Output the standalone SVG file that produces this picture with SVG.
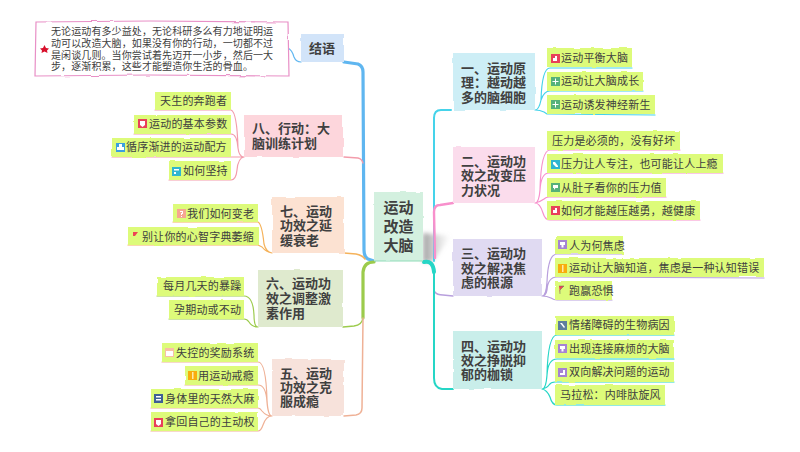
<svg xmlns="http://www.w3.org/2000/svg" width="800" height="452" viewBox="0 0 800 452">
<style>
text{font-family:"Noto Sans CJK SC","Noto Sans",sans-serif;fill:#404040}
.t{font-size:13px;font-weight:700}
.r{font-size:15px;font-weight:700;text-anchor:middle}
.l{font-size:11px;letter-spacing:.2px}
.n{font-size:10px;letter-spacing:.1px}
.leaf{fill:#ddfb7a;filter:url(#rough)}
.b{filter:url(#rough)}
.c{fill:none;stroke-width:1.2;stroke-linecap:round;stroke-linejoin:round}
.k{fill:none;stroke-linecap:round;stroke-linejoin:round}
.w{fill:#fff}
.sky{stroke:#5fb6f0}.ros{stroke:#f39cab}.org{stroke:#f5b25a}.grn{stroke:#9ccb4c}.pch{stroke:#efb196}
.cya{stroke:#45d3ea}.pnk{stroke:#f890cc}.pur{stroke:#b89fdd}.tea{stroke:#25d6c6}
</style>
<defs>
<linearGradient id="sh" x1="0" x2="1" y1="0" y2="0"><stop offset="0" stop-color="#8a8a8a" stop-opacity=".8"/><stop offset="1" stop-color="#bdbdbd" stop-opacity="0"/></linearGradient>
<filter id="bl" x="-30%" y="-30%" width="160%" height="160%"><feGaussianBlur stdDeviation="2"/></filter>
<filter id="rough" x="-5%" y="-10%" width="110%" height="120%"><feTurbulence type="fractalNoise" baseFrequency=".06" numOctaves="2" seed="4" result="n"/><feDisplacementMap in="SourceGraphic" in2="n" scale="2.500"/></filter>
</defs>
<rect width="800" height="452" fill="#fff"/>
<polygon points="423,233 451,236 432,262 423,262" fill="url(#sh)" filter="url(#bl)"/>

<g id="connectors">
<path class="k sky" stroke-width="3.200" d="M374,261 L368,259 Q364,257 364,250 L363,72 Q363,66 358,64 L344,62"/>
<path class="k ros" stroke-width="1.3" d="M344,157 L358,158 Q362,159 363,163"/>
<path class="k org" stroke-width="1.6" d="M344,253 L356,254 Q362,255 365,259"/>
<path class="k grn" stroke-width="3.200" d="M374,262 Q364,262 363,272 L363,318"/>
<path class="k grn" stroke-width="1.5" d="M363,318 Q362,325 354,326 L343,327"/>
<path class="k pch" stroke-width="1.5" d="M363,318 L362,408 Q362,414 356,415 L344,416"/>
<path class="k cya" stroke-width="2" d="M434,261 L434,118 Q434,110 441,110 L451,110"/>
<path class="k pnk" stroke-width="2.400" d="M435,258 L434,212 Q434,205 440,205 L453,203"/>
<path class="k pur" stroke-width="1.4" d="M435,292 Q437,295 443,295 L453,296"/>
<path class="k tea" stroke-width="2" d="M434,272 L434,378 Q434,388 442,389 L453,389"/>
<path class="k tea" stroke-width="4" d="M424,262 Q433,260 434,272"/>

<path class="c sky" d="M301,62 Q296,62 294,57 Q292,50 288,48"/>
<path class="c ros" d="M244,157 Q239,157 238,148 Q237,112 231,110 M244,157 Q239,157 238,148 Q237,134 231,134 M244,157 L112,157 M244,157 Q238,158 237,170 Q236,180 231,180 L169,180 M231,110 L155,110 M231,134 L134,134"/>
<path class="c org" d="M272,253 Q266,252 264,244 Q262,224 258,222 L173,222 M272,253 Q266,252 262,247 L258,245 L128,245"/>
<path class="c grn" d="M258,327 Q254,327 254,315 Q253,296 244,296 L157,296 M258,327 Q252,327 249,322 Q247,319 244,319 L169,319"/>
<path class="c pch" d="M272,416 Q268,416 267,400 Q266,362 258,362 L162,362 M272,416 Q268,416 267,402 Q266,385 258,385 L185,385 M272,416 Q266,416 262,411 Q260,408 258,408 L151,408 M272,416 Q266,416 263,425 Q261,431 258,431 L151,431"/>
<path class="c cya" d="M535,110 Q539,110 541,100 Q542,68 550,68 L632,68 M535,110 Q539,110 541,100 Q544,91 550,91 L643,91 M535,110 Q540,110 544,112 L547,114 L655,115"/>
<path class="c pnk" d="M535,203 Q539,203 540,190 Q541,150 550,150 L680,150 M535,203 Q539,203 540,190 Q541,173 549,173 L723,173 M535,203 Q540,202 544,199 Q546,197 549,197 L666,197 M535,203 Q540,203 543,213 Q545,220 550,220 L700,220"/>
<path class="c pur" d="M542,296 Q546,296 547,282 Q548,254 557,254 L623,254 M542,296 Q546,296 547,290 Q548,277 557,277 L764,278 M542,296 Q547,296 551,298 Q554,300 557,300 L612,300"/>
<path class="c tea" d="M542,389 Q546,389 547,375 Q548,335 557,335 L674,335 M542,389 Q546,389 547,375 Q548,359 557,359 L674,359 M542,389 Q547,388 549,385 Q551,382 555,382 L674,382 M542,389 Q547,390 550,397 Q552,405 557,405 L665,405"/>
</g>

<g id="root"><rect class="b" x="374" y="192" width="49" height="69" fill="#d3f0df"/><path d="M374,261 H423" stroke="#8fdcb8" fill="none"/>
<text class="r"><tspan x="398.500" y="213">运动</tspan><tspan x="398.500" y="232">改造</tspan><tspan x="398.500" y="251">大脑</tspan></text></g>

<g id="jieyu"><rect class="b" x="301" y="34" width="43" height="28" fill="#d2e4f9"/><text class="t" x="309" y="53">结语</text></g>
<g id="note"><path class="b" d="M36,22 L150,21 L288,22 L289,76 L150,75 L35,76 Z" fill="#fff" stroke="#e88fc6" stroke-width="1.2"/>
<polygon points="44.500,45 46,48 49,48.500 47,50.500 47.500,53 44.500,51.500 41.500,53 42,50.500 40,48.500 43,48" fill="#d8102c"/>
<text class="n"><tspan x="51" y="35">无论运动有多少益处，无论科研多么有力地证明运</tspan><tspan x="51" y="47">动可以改造大脑，如果没有你的行动，一切都不过</tspan><tspan x="51" y="59">是闲谈几则。当你尝试着先迈开一小步，然后一大</tspan><tspan x="51" y="70">步，逐渐积累，这些才能塑造你生活的骨血。</tspan></text></g>

<g id="n8"><rect class="b" x="244" y="115" width="99" height="42" fill="#fdd6dc"/><text class="t"><tspan x="252" y="133">八、行动：大</tspan><tspan x="252" y="148">脑训练计划</tspan></text></g>
<g id="n8a"><rect class="leaf" x="155" y="92" width="76" height="18"/><text class="l" x="160" y="105">天生的奔跑者</text></g>
<g id="n8b"><rect class="leaf" x="134" y="115" width="97" height="19"/><rect x="138" y="119" width="9" height="9" fill="#e8405a"/><path class="w" d="M140,121 H145 V125 L142.500,127 L140,125 Z"/><text class="l" x="149" y="128">运动的基本参数</text></g>
<g id="n8c"><rect class="leaf" x="112" y="138" width="119" height="19"/><rect x="116" y="143" width="9" height="9" fill="#3c9fe0"/><path class="w" d="M119,144 H122 V147 H124 V150 H117 V147 H119 Z"/><text class="l" x="126" y="151">循序渐进的运动配方</text></g>
<g id="n8d"><rect class="leaf" x="169" y="161" width="62" height="19"/><rect x="172" y="167" width="9" height="9" fill="#30b5d0"/><path class="w" d="M174,169 H179 V170.500 H174 Z M174,172 H176 V174 H174 Z"/><text class="l" x="183" y="175">如何坚持</text></g>

<g id="n7"><rect class="b" x="272" y="197" width="72" height="56" fill="#fce2d2"/><text class="t"><tspan x="280" y="216">七、运动</tspan><tspan x="280" y="230">功效之延</tspan><tspan x="280" y="245">缓衰老</tspan></text></g>
<g id="n7a"><rect class="leaf" x="173" y="204" width="85" height="18"/><rect x="177" y="209" width="9" height="9" fill="#f6a692"/><path class="w" d="M180,211 H183 V214 H182 V215 H181 V213 H182 V212 H180 Z M181,216 H182 V217 H181 Z"/><text class="l" x="187" y="218">我们如何变老</text></g>
<g id="n7b"><rect class="leaf" x="128" y="227" width="131" height="18"/><polygon points="133,232 138,232 135,236 133,236" fill="#ee4455"/><text class="l" x="142" y="241">别让你的心智字典萎缩</text></g>

<g id="n6"><rect class="b" x="258" y="270" width="85" height="57" fill="#dfeace"/><text class="t"><tspan x="266" y="288">六、运动功</tspan><tspan x="266" y="303">效之调整激</tspan><tspan x="266" y="318">素作用</tspan></text></g>
<g id="n6a"><rect class="leaf" x="157" y="277" width="87" height="19"/><text class="l" x="163" y="290">每月几天的暴躁</text></g>
<g id="n6b"><rect class="leaf" x="169" y="300" width="75" height="19"/><text class="l" x="174" y="314">孕期动或不动</text></g>

<g id="n5"><rect class="b" x="272" y="359" width="72" height="57" fill="#f7e2db"/><text class="t"><tspan x="280" y="378">五、运动</tspan><tspan x="280" y="392">功效之克</tspan><tspan x="280" y="406">服成瘾</tspan></text></g>
<g id="n5a"><rect class="leaf" x="162" y="343" width="96" height="19"/><rect x="165" y="348" width="9" height="9" fill="#f8bfa5"/><rect class="w" x="166" y="351" width="7" height="5"/><text class="l" x="176" y="357">失控的奖励系统</text></g>
<g id="n5b"><rect class="leaf" x="185" y="366" width="73" height="19"/><rect x="188" y="371" width="9" height="9" fill="#f8ad0c"/><rect x="192" y="372" width="1.500" height="7" fill="#ffe9a8"/><text class="l" x="198" y="380">用运动戒瘾</text></g>
<g id="n5c"><rect class="leaf" x="151" y="389" width="107" height="19"/><rect x="154" y="394" width="9" height="9" fill="#3f5f95"/><path class="w" d="M156,396 H161 V397.500 H156 Z M156,399 H161 V400.500 H156 Z"/><text class="l" x="165" y="403">身体里的天然大麻</text></g>
<g id="n5d"><rect class="leaf" x="151" y="412" width="107" height="19"/><rect x="154" y="418" width="9" height="9" fill="#e8405a"/><path class="w" d="M156,420 H161 V424 L158.500,426 L156,424 Z"/><text class="l" x="165" y="426">拿回自己的主动权</text></g>

<g id="n1"><rect class="b" x="453" y="53" width="82" height="57" fill="#cdeef6"/><text class="t"><tspan x="461" y="73">一、运动原</tspan><tspan x="461" y="87">理：越动越</tspan><tspan x="461" y="102">多的脑细胞</tspan></text></g>
<g id="n1a"><rect class="leaf" x="547" y="48" width="85" height="19"/><rect x="551" y="54" width="9" height="9" fill="#e8405a"/><path class="w" d="M553,58 H555 V56 H557 V61 H553 Z"/><text class="l" x="561" y="62">运动平衡大脑</text></g>
<g id="n1b"><rect class="leaf" x="547" y="72" width="96" height="19"/><rect x="551" y="77" width="9" height="9" fill="#55b17a"/><path class="w" d="M555,78.500 H556 V81 H558.500 V82 H556 V84.500 H555 V82 H552.500 V81 H555 Z"/><text class="l" x="561" y="85">运动让大脑成长</text></g>
<g id="n1c"><rect class="leaf" x="547" y="95" width="108" height="19"/><rect x="551" y="100" width="9" height="9" fill="#55b17a"/><path class="w" d="M555,101.500 H556 V104 H558.500 V105 H556 V107.500 H555 V105 H552.500 V104 H555 Z"/><text class="l" x="561" y="109">运动诱发神经新生</text></g>

<g id="n2"><rect class="b" x="453" y="147" width="82" height="56" fill="#fbdcec"/><text class="t"><tspan x="461" y="166">二、运动功</tspan><tspan x="461" y="180">效之改变压</tspan><tspan x="461" y="195">力状况</tspan></text></g>
<g id="n2a"><rect class="leaf" x="547" y="131" width="133" height="19"/><text class="l" x="552" y="145">压力是必须的，没有好坏</text></g>
<g id="n2b"><rect class="leaf" x="547" y="154" width="176" height="19"/><rect x="551" y="160" width="9" height="9" fill="#30b5d0"/><path class="w" d="M553,162 L555,162 L558,166 L558,167 L556,167 L553,164 Z"/><text class="l" x="561" y="168">压力让人专注，也可能让人上瘾</text></g>
<g id="n2c"><rect class="leaf" x="547" y="178" width="119" height="19"/><rect x="551" y="183" width="9" height="9" fill="#55b17a"/><path class="w" d="M553,185 H558 V188 H555.500 L554,190 V188 H553 Z"/><text class="l" x="561" y="192">从肚子看你的压力值</text></g>
<g id="n2d"><rect class="leaf" x="547" y="201" width="153" height="19"/><rect x="551" y="206" width="9" height="9" fill="#e8405a"/><path class="w" d="M553,210 H555 V208 H557 V213 H553 Z"/><text class="l" x="561" y="215">如何才能越压越勇，越健康</text></g>

<g id="n3"><rect class="b" x="453" y="239" width="89" height="57" fill="#e0daf2"/><text class="t"><tspan x="461" y="258">三、运动功</tspan><tspan x="461" y="273">效之解决焦</tspan><tspan x="461" y="287">虑的根源</tspan></text></g>
<g id="n3a"><rect class="leaf" x="555" y="236" width="68" height="18"/><rect x="558" y="240" width="9" height="9" fill="#a583d3"/><path class="w" d="M560,242 H565 V245 H563.500 V247.500 H561.500 V245 H560 Z"/><text class="l" x="569" y="250">人为何焦虑</text></g>
<g id="n3b"><rect class="leaf" x="555" y="258" width="209" height="19"/><rect x="558" y="264" width="9" height="9" fill="#f8ad0c"/><rect x="562" y="265" width="1.500" height="7" fill="#ffe9a8"/><text class="l" x="569" y="272">运动让大脑知道，焦虑是一种认知错误</text></g>
<g id="n3c"><rect class="leaf" x="555" y="281" width="57" height="19"/><path d="M559,286 L564,286 L560,290 V294" fill="#ee4455" stroke="#666" stroke-width=".5"/><text class="l" x="569" y="295">跑赢恐惧</text></g>

<g id="n4"><rect class="b" x="453" y="331" width="89" height="58" fill="#c9eeea"/><text class="t"><tspan x="461" y="351">四、运动功</tspan><tspan x="461" y="365">效之挣脱抑</tspan><tspan x="461" y="379">郁的枷锁</tspan></text></g>
<g id="n4a"><rect class="leaf" x="555" y="316" width="119" height="19"/><rect x="558" y="321" width="9" height="9" fill="#5d7d9d"/><path class="w" d="M560,323 L562,323 L565,327 L564,328 Z"/><text class="l" x="569" y="329">情绪障碍的生物病因</text></g>
<g id="n4b"><rect class="leaf" x="555" y="340" width="119" height="18"/><rect x="558" y="344" width="9" height="9" fill="#a583d3"/><path class="w" d="M560,346 H565 V349 H563.500 V351.500 H561.500 V349 H560 Z"/><text class="l" x="569" y="353">出现连接麻烦的大脑</text></g>
<g id="n4c"><rect class="leaf" x="555" y="362" width="119" height="20"/><rect x="558" y="368" width="9" height="9" fill="#a583d3"/><path class="w" d="M560,373 H563 V370 H565 V375 H560 Z"/><text class="l" x="569" y="376">双向解决问题的运动</text></g>
<g id="n4d"><rect class="leaf" x="555" y="385" width="110" height="20"/><text class="l" x="560" y="399">马拉松：内啡肽旋风</text></g>
</svg>
